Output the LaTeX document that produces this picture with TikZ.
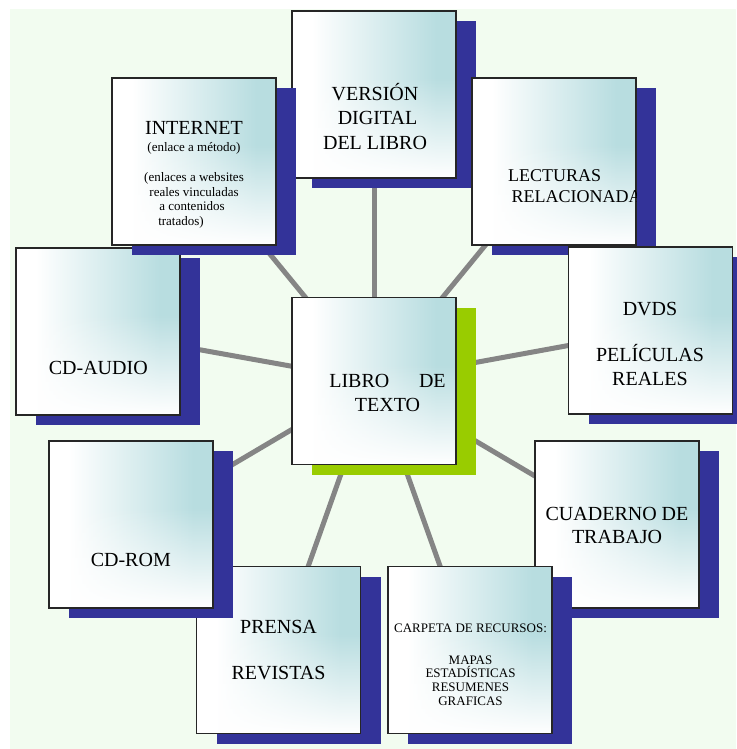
\documentclass[tikz,border=0pt]{standalone}
\usepackage{fontspec}
\setmainfont{Liberation Serif}
\usetikzlibrary{shadows,fadings,calc}
\definecolor{bgg}{HTML}{F2FCF0}
\definecolor{sblue}{HTML}{333399}
\definecolor{sgreen}{HTML}{99CC00}
\definecolor{tealc}{HTML}{B8DDE0}
\definecolor{linec}{HTML}{858585}
\tikzfading[name=upfade, top color=transparent!100, bottom color=transparent!0]
\pgfdeclarelayer{bgl}
\pgfdeclarelayer{lines}
\pgfsetlayers{bgl,lines,main}
\tikzset{
  card/.style={draw=black!85, line width=1.3pt, minimum width=164pt, minimum height=167pt,
    inner sep=0pt, outer sep=0pt,
    path picture={
      \fill[white] (path picture bounding box.south west) rectangle (path picture bounding box.north east);
      \shade[left color=white, right color=tealc]
        ($(path picture bounding box.south west)!0.12!(path picture bounding box.south east)$) rectangle
        ($(path picture bounding box.north west)!0.88!(path picture bounding box.north east)$);
      \fill[tealc] ($(path picture bounding box.north west)!0.88!(path picture bounding box.north east)$) rectangle (path picture bounding box.south east);
      \fill[white, path fading=upfade] (path picture bounding box.south west) rectangle
        ($(path picture bounding box.north east)!0.4!(path picture bounding box.south east)$);
    }},
  shadowed/.style={drop shadow={shadow xshift=20pt, shadow yshift=-10pt, opacity=1, fill=#1}},
  conn/.style={draw=linec, line width=5pt},
  txt/.style={inner sep=0pt, outer sep=0pt, text=black},
}
\begin{document}
\begin{tikzpicture}[x=1pt, y=-1pt]
\useasboundingbox (0,0) rectangle (736,749);
\begin{pgfonlayer}{bgl}
  \fill[white] (0,0) rectangle (736,749);
  \fill[bgg] (10,9) rectangle (736,749);
\end{pgfonlayer}

% boxes in stacking order
\node[card, shadowed=sblue] (cda) at (98,331.5) {};
\node[card, shadowed=sblue] (ver) at (374,94.5) {};
\node[card, shadowed=sblue] (int) at (194,161.5) {};
\node[card, shadowed=sblue] (lec) at (554,161.5) {};
\node[card, shadowed=sblue] (dvd) at (650.5,330.5) {};
\node[card, shadowed=sgreen] (lib) at (374,381) {};
\node[card, shadowed=sblue] (cua) at (617,524.5) {};
\node[card, shadowed=sblue] (car) at (470,650) {};
\node[card, shadowed=sblue] (pre) at (278.5,650) {};
\node[card, shadowed=sblue] (cdr) at (131,524.5) {};

% connectors
\begin{pgfonlayer}{lines}
  \foreach \n in {ver,lec,int,cda,dvd,cdr,cua,pre,car}
    \draw[conn] (lib.center) -- (\n.center);
\end{pgfonlayer}

% texts
\node[txt, anchor=base] (ver-t) at (375,100.7) {\fontsize{20}{24.2}\selectfont
  \begin{tabular}[t]{@{}c@{}}VERSIÓN\\\hspace*{5pt}DIGITAL\\DEL LIBRO\end{tabular}};

\begin{scope}
  \clip (lec.south west) rectangle (lec.north east);
  \node[txt, anchor=base west] (lec-t) at (508,181) {\fontsize{18}{21.3}\selectfont
    \begin{tabular}[t]{@{}l@{}}LECTURAS\\\hspace*{3.7pt}RELACIONADA\end{tabular}};
\end{scope}

\node[txt, anchor=base] (int-t) at (194,135) {\fontsize{13}{14.5}\selectfont
  \begin{tabular}[t]{@{}c@{}}
  {\fontsize{20}{24}\selectfont INTERNET}\\[2.2pt]
  (enlace a método)\\[15.5pt]
  (enlaces a websites\\
  reales vinculadas\\
  a contenidos\hspace*{4pt}\\
  tratados)\hspace*{26pt}
  \end{tabular}};

\node[txt, anchor=base] (cda-t) at (98.3,374) {\fontsize{20}{24}\selectfont CD-AUDIO};

\node[txt, anchor=base] (lib-t) at (387.5,387.7) {\fontsize{20}{24}\selectfont
  \begin{tabular}[t]{@{}c@{}}\makebox[116.4pt]{LIBRO\hfill DE}\\TEXTO\end{tabular}};

\node[txt, anchor=base] (dvd-t) at (650,315) {\fontsize{20}{23.3}\selectfont
  \begin{tabular}[t]{@{}c@{}}DVDS\\[23.4pt]\smash{PELÍCULAS}\\REALES\end{tabular}};

\node[txt, anchor=base] (cdr-t) at (130.8,566.7) {\fontsize{20}{24}\selectfont CD-ROM};

\node[txt, anchor=base] (cua-t) at (617,520) {\fontsize{20}{23.3}\selectfont
  \begin{tabular}[t]{@{}c@{}}CUADERNO DE\\TRABAJO\end{tabular}};

\node[txt, anchor=base] (pre-t) at (278.5,633.3) {\fontsize{20}{22.85}\selectfont
  \begin{tabular}[t]{@{}c@{}}PRENSA\\[22.85pt]REVISTAS\end{tabular}};

\node[txt, anchor=base] (car-t) at (470.5,632.7) {\fontsize{13}{13.7}\selectfont
  \begin{tabular}[t]{@{}c@{}}CARPETA DE RECURSOS:\\[17.6pt]MAPAS\\\smash{ESTADÍSTICAS}\\RESUMENES\\GRAFICAS\end{tabular}};
\end{tikzpicture}
\end{document}
